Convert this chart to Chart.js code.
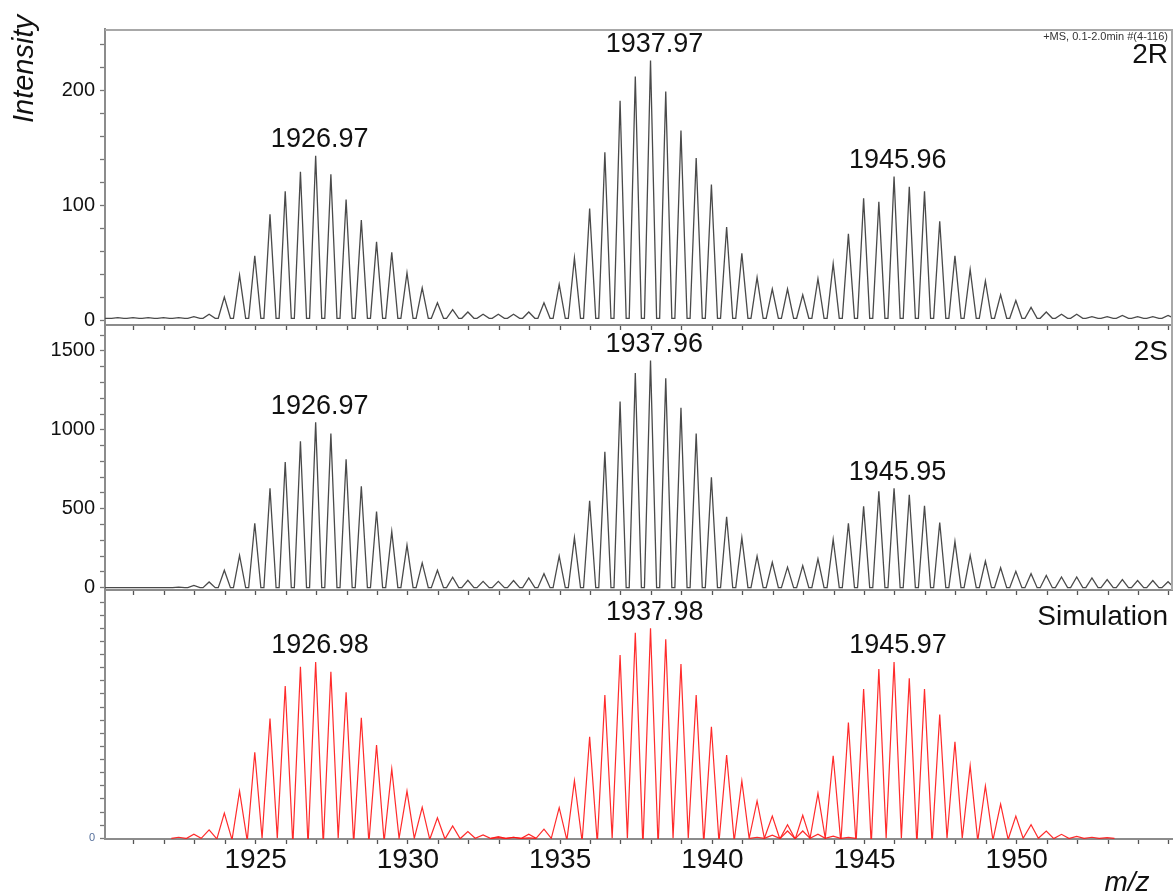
<!DOCTYPE html>
<html><head><meta charset="utf-8">
<script src="https://cdn.jsdelivr.net/npm/chart.js@4.4.0/dist/chart.umd.min.js"></script>
<style>
html,body{margin:0;padding:0;background:#fff;}
#wrap{position:relative;width:1173px;height:894px;overflow:hidden;background:#fff;}
canvas{position:absolute;left:0;}
</style></head><body>
<div id="wrap">
<canvas id="c1" width="1173" height="342" style="top:0px"></canvas>
<canvas id="c2" width="1173" height="300" style="top:307px"></canvas>
<canvas id="c3" width="1173" height="320" style="top:574px"></canvas>
</div>
<script>
// ---- data: m/z of the isotope peaks (2+ ions) and their intensities ----
const mz = [
 1920.47,1920.97,1921.47,1921.97,1922.47,1922.97,1923.47,1923.97,1924.47,1924.97,
 1925.47,1925.97,1926.47,1926.97,1927.47,1927.97,1928.47,1928.97,1929.47,1929.97,
 1930.47,1930.97,1931.47,1931.97,1932.47,1932.97,1933.47,1933.97,1934.47,1934.97,
 1935.47,1935.97,1936.47,1936.97,1937.47,1937.97,1938.47,1938.97,1939.47,1939.97,
 1940.47,1940.97,1941.47,1941.97,1942.47,1942.97,1943.47,1943.97,1944.47,1944.97,
 1945.47,1945.97,1946.47,1946.97,1947.47,1947.97,1948.47,1948.97,1949.47,1949.97,
 1950.47,1950.97,1951.47,1951.97,1952.47,1952.97,1953.47,1953.97,1954.47,1954.97
];
const intensity2R = [
 2,2,2,2,2,3,5,20,39,56,
 92,112,129,143,127,105,87,68,59,41,
 28,15,9,7,5,5,5,7,15,31,
 54,97,146,191,212,226,199,165,141,118,
 81,58,37,27,27,22,36,49,75,106,
 103,125,116,112,86,56,44,34,22,17,
 11,7,5,5,3,3,4,3,3,4
];
const intensity2S = [
 0,0,0,1,3,15,36,111,204,408,
 630,796,928,1047,976,813,643,483,355,270,
 157,111,66,47,40,40,45,62,89,200,
 317,551,860,1179,1359,1438,1327,1140,976,700,
 449,317,200,161,130,140,183,306,408,515,
 611,630,589,519,413,292,204,168,126,104,
 89,77,68,68,62,51,51,45,45,38
];
const simA = [
 null,null,null,null,0.5,2,4,12,22.5,41,
 57,72.5,81.7,84,79.3,69.5,57.4,44.4,33,22.5,
 14.8,9.8,5.9,3.2,1.6,0.8,0.4,0.2,null,null,
 null,null,null,null,null,null,null,null,null,null,
 null,null,null,null,null,null,null,null,null,null,
 null,null,null,null,null,null,null,null,null,null,
 null,null,null,null,null,null,null,null,null,null
];
const simB = [
 null,null,null,null,null,null,null,null,null,null,
 null,null,null,null,null,null,null,null,null,null,
 null,null,null,null,null,0.3,0.5,2,4.4,14.6,
 27.4,48.4,68.2,87.3,97.9,100,94.8,83,68.2,53.1,
 39.7,27.3,17.8,10.6,6.5,3.5,2,1,0.4,null,
 null,null,null,null,null,null,null,null,null,null,
 null,null,null,null,null,null,null,null,null,null
];
const simC = [
 null,null,null,null,null,null,null,null,null,null,
 null,null,null,null,null,null,null,null,null,null,
 null,null,null,null,null,null,null,null,null,null,
 null,null,null,null,null,null,null,null,null,null,
 null,null,0.5,1.5,3.5,11,21.4,39.3,55.2,71.1,
 80.6,84,76.2,71.1,59,46,34.6,24.9,16.3,10.6,
 6.5,3.5,1.9,0.9,0.5,0.3,null,null,null,null
];
const labels2R = ['1926.97','1937.97','1945.96'];
const labels2S = ['1926.97','1937.96','1945.95'];
const labelsSim = ['1926.98','1937.98','1945.97'];
const xTickLabels = [1925, 1930, 1935, 1940, 1945, 1950];
const yLabels2R = [0, 100, 200];
const yLabels2S = [0, 500, 1000, 1500];
const yLabelsSim = [0];
const xMin = 1920.05, xMax = 1955.1;

// ---- helpers ----
const FONT = "'Liberation Sans', Arial, sans-serif";
Chart.defaults.font.family = FONT;
function profile(vals, base, edges, hw) {
  const pts = [];
  if (edges) pts.push({x: xMin, y: base});
  mz.forEach((m, i) => {
    const v = vals[i];
    if (v === null || v === undefined) return;
    pts.push({x: m - hw, y: base}, {x: m, y: v}, {x: m + hw, y: base});
  });
  if (edges) pts.push({x: xMax, y: base});
  return pts;
}
function apex(seriesList, labelText) {
  const m = parseFloat(labelText);
  let bi = 0;
  mz.forEach((v, i) => { if (Math.abs(v - m) < Math.abs(mz[bi] - m)) bi = i; });
  let best = 0;
  seriesList.forEach(s => { if (s[bi] !== null && s[bi] > best) best = s[bi]; });
  return {text: labelText, mz: m, value: best};
}

const annotPlugin = {
  id: 'annot',
  afterDraw(chart, args, o) {
    const ctx = chart.ctx, xs = chart.scales.x, ys = chart.scales.y, ca = chart.chartArea;
    ctx.save();
    ctx.strokeStyle = '#a8a8a8'; ctx.lineWidth = 2;
    if (o.frameTop) { ctx.beginPath(); ctx.moveTo(ca.left, ca.top + 1); ctx.lineTo(ca.right, ca.top + 1); ctx.stroke(); }
    if (o.frameRight) { ctx.beginPath(); ctx.moveTo(ca.right, ca.top); ctx.lineTo(ca.right, ca.bottom); ctx.stroke(); }
    ctx.fillStyle = '#111';
    ctx.textBaseline = 'middle';
    ctx.textAlign = 'center';
    ctx.font = '27px ' + FONT;
    (o.peaks || []).forEach(p => {
      ctx.fillText(p.text, xs.getPixelForValue(p.mz) + 4, ys.getPixelForValue(p.value) - 16);
    });
    ctx.textAlign = 'right';
    ctx.font = '28px ' + FONT;
    if (o.name) ctx.fillText(o.name, ca.right - 4, ca.top + o.nameDy);
    if (o.info) { ctx.font = '11px ' + FONT; ctx.fillStyle = '#333'; ctx.fillText(o.info, ca.right - 4, ca.top + 8); }
    if (o.ytitle) {
      ctx.save(); ctx.fillStyle = '#111'; ctx.font = 'italic 29px ' + FONT; ctx.textAlign = 'center';
      ctx.translate(25, 69); ctx.rotate(-Math.PI / 2); ctx.fillText(o.ytitle, 0, 0); ctx.restore();
    }
    if (o.xtitle) {
      ctx.fillStyle = '#111'; ctx.font = 'italic 28px ' + FONT; ctx.textAlign = 'center';
      ctx.fillText(o.xtitle, ca.right - 45, ca.bottom + 44);
    }
    ctx.restore();
  }
};

function makeChart(id, datasets, y, xShowLabels, plug, padTop, xHeight) {
  return new Chart(document.getElementById(id), {
    type: 'line',
    data: {datasets},
    options: {
      responsive: false, animation: false, events: [],
      layout: {padding: {top: padTop, right: 1, left: 0, bottom: 0}},
      plugins: {legend: {display: false}, tooltip: {enabled: false}, annot: plug},
      elements: {point: {radius: 0}, line: {tension: 0, borderWidth: 1}},
      scales: {
        x: {
          type: 'linear', min: xMin, max: xMax,
          border: {display: true, color: '#8c8c8c', width: 2},
          grid: {display: true, drawOnChartArea: false, drawTicks: true, tickLength: 5, color: '#555', tickWidth: 1.3},
          ticks: {
            display: xShowLabels, stepSize: 1, includeBounds: false, autoSkip: false, maxRotation: 0, minRotation: 0,
            padding: -1, color: '#111', font: {size: 28},
            callback: v => (xTickLabels.includes(Math.round(v)) ? String(Math.round(v)) : '')
          },
          afterFit: s => { s.height = xHeight; }
        },
        y: {
          type: 'linear', min: y.min, max: y.max,
          border: {display: true, color: '#8c8c8c', width: 2},
          grid: {display: true, drawOnChartArea: false, drawTicks: true, tickLength: 5, color: '#777', tickWidth: 1.3},
          ticks: {
            stepSize: y.step, includeBounds: false, autoSkip: false, padding: 5,
            color: y.color || '#111', font: {size: y.fontSize || 20},
            callback: v => (y.labels.includes(Math.round(v * 100) / 100) ? String(Math.round(v)) : '')
          },
          afterFit: s => { s.width = 105; }
        }
      }
    },
    plugins: [annotPlugin]
  });
}

// Panel 1: 2R
makeChart('c1',
  [{data: profile(intensity2R, 1.5, true, 0.2), borderColor: '#4a4a4a', borderWidth: 1.3}],
  {min: -4.35, max: 253.4, step: 20, labels: yLabels2R},
  false,
  {frameTop: true, frameRight: true, name: '2R', nameDy: 26, info: '+MS, 0.1-2.0min #(4-116)', ytitle: 'Intensity',
   peaks: labels2R.map(t => apex([intensity2R], t))},
  29, 17);

// Panel 2: 2S
makeChart('c2',
  [{data: profile(intensity2S, 0, true, 0.2), borderColor: '#4a4a4a', borderWidth: 1.3}],
  {min: -14.6, max: 1670, step: 100, labels: yLabels2S},
  false,
  {frameRight: true, name: '2S', nameDy: 28,
   peaks: labels2S.map(t => apex([intensity2S], t))},
  17, 17);

// Panel 3: Simulation
makeChart('c3',
  [simA, simB, simC].map(s => ({data: profile(s, 0, false, 0.24), borderColor: 'rgba(255,20,20,0.9)', borderWidth: 1.2})),
  {min: -0.33, max: 117.8, step: 6.25, labels: yLabelsSim, fontSize: 11, color: '#56709c'},
  true,
  {name: 'Simulation', nameDy: 26, xtitle: 'm/z',
   peaks: labelsSim.map(t => apex([simA, simB, simC], t))},
  17, 55);
</script>
</body></html>
